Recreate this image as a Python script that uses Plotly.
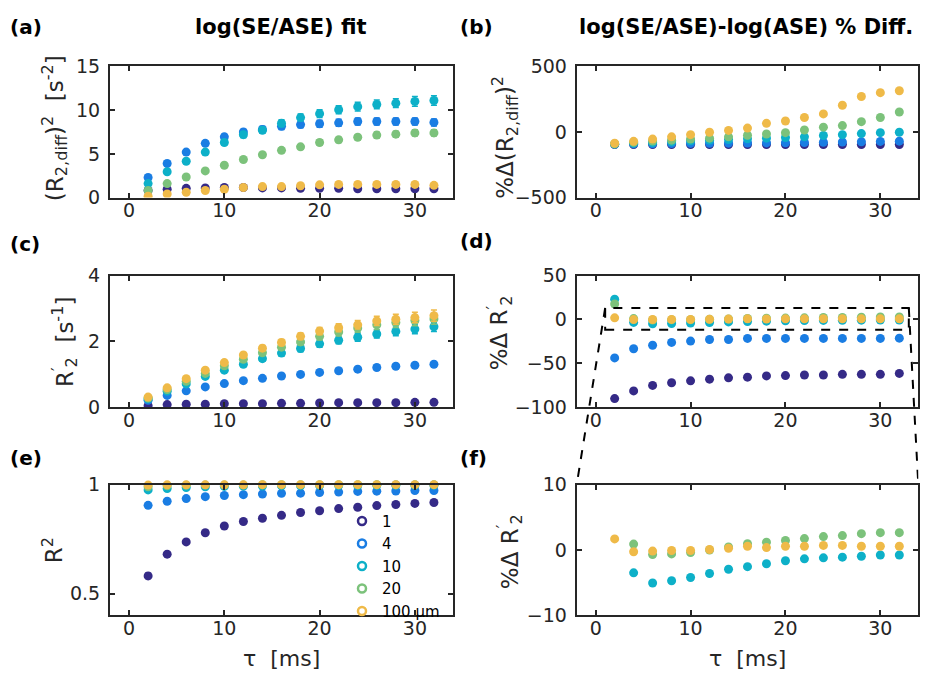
import plotly.graph_objects as go
from plotly.subplots import make_subplots

# ---------------- data ----------------
tau = [2, 4, 6, 8, 10, 12, 14, 16, 18, 20, 22, 24, 26, 28, 30, 32]
radius_labels = ["1", "4", "10", "20", "100 µm"]
colors = ["#352A87", "#1A7DE3", "#0DB0C8", "#7CC27B", "#EFBA48"]

# (a) (R2,diff)^2 [s^-2]
r2diff_sq = [
    [0.8, 0.95, 1.05, 1.1, 1.15, 1.15, 1.1, 1.1, 1.05, 1.05, 1.05, 1.0, 1.0, 1.0, 1.0, 1.0],
    [2.29, 3.9, 5.2, 6.2, 6.95, 7.5, 7.8, 8.15, 8.35, 8.45, 8.55, 8.7, 8.7, 8.7, 8.7, 8.6],
    [1.6, 2.95, 4.15, 5.2, 6.3, 7.2, 7.7, 8.5, 9.15, 9.6, 10.05, 10.4, 10.65, 10.8, 11.0, 11.1],
    [0.8, 1.6, 2.35, 3.05, 3.7, 4.35, 4.9, 5.4, 5.8, 6.3, 6.6, 6.9, 7.15, 7.25, 7.4, 7.4],
    [0.15, 0.4, 0.6, 0.8, 0.95, 1.15, 1.25, 1.25, 1.35, 1.45, 1.5, 1.5, 1.5, 1.5, 1.5, 1.4],
]
r2diff_sq_err = [
    [0.05, 0.05, 0.05, 0.05, 0.05, 0.05, 0.05, 0.05, 0.05, 0.05, 0.05, 0.05, 0.05, 0.05, 0.05, 0.05],
    [0.1, 0.15, 0.2, 0.25, 0.3, 0.3, 0.35, 0.35, 0.35, 0.4, 0.4, 0.4, 0.4, 0.4, 0.4, 0.4],
    [0.1, 0.15, 0.2, 0.25, 0.3, 0.35, 0.35, 0.4, 0.4, 0.45, 0.45, 0.5, 0.5, 0.5, 0.55, 0.55],
    [0.05, 0.1, 0.1, 0.15, 0.15, 0.2, 0.2, 0.25, 0.25, 0.3, 0.3, 0.3, 0.35, 0.35, 0.35, 0.35],
    [0.03, 0.03, 0.04, 0.05, 0.05, 0.06, 0.06, 0.07, 0.07, 0.08, 0.08, 0.08, 0.08, 0.08, 0.08, 0.08],
]

# (b) % difference of (R2,diff)^2
pct_r2diff_sq = [
    [-96, -96, -96, -96, -96, -95, -95, -95, -95, -95, -95, -95, -95, -95, -95, -95],
    [-93, -91, -90, -88, -87, -86, -85, -84, -83, -82, -80, -78, -76, -74, -72, -70],
    [-92, -85, -80, -74, -67, -62, -57, -52, -47, -42, -37, -27, -20, -12, -5, -2],
    [-91, -79, -69, -62, -54, -47, -37, -25, -15, -5, 15, 37, 49, 79, 111, 153],
    [-86, -71, -54, -37, -20, -2, 12, 30, 66, 84, 111, 138, 204, 271, 300, 315],
]

# (c) R2' [s^-1]
r2prime = [
    [0.04, 0.07, 0.08, 0.08, 0.1, 0.1, 0.1, 0.11, 0.11, 0.12, 0.13, 0.13, 0.13, 0.13, 0.14, 0.14],
    [0.2, 0.35, 0.49, 0.61, 0.71, 0.8, 0.87, 0.94, 0.99, 1.05, 1.1, 1.15, 1.2, 1.24, 1.27, 1.3],
    [0.25, 0.48, 0.7, 0.93, 1.12, 1.3, 1.47, 1.64, 1.78, 1.92, 2.03, 2.12, 2.22, 2.3, 2.37, 2.44],
    [0.27, 0.53, 0.78, 1.02, 1.25, 1.45, 1.65, 1.82, 1.98, 2.15, 2.28, 2.4, 2.5, 2.57, 2.63, 2.68],
    [0.3, 0.58, 0.86, 1.12, 1.35, 1.58, 1.79, 1.96, 2.15, 2.31, 2.41, 2.5, 2.62, 2.67, 2.72, 2.78],
]
r2prime_err = [
    [0.01, 0.01, 0.01, 0.01, 0.01, 0.01, 0.01, 0.01, 0.01, 0.01, 0.01, 0.01, 0.01, 0.01, 0.01, 0.01],
    [0.02, 0.02, 0.03, 0.03, 0.03, 0.04, 0.04, 0.04, 0.05, 0.05, 0.05, 0.05, 0.06, 0.06, 0.06, 0.06],
    [0.02, 0.03, 0.04, 0.05, 0.06, 0.07, 0.08, 0.09, 0.1, 0.1, 0.11, 0.12, 0.12, 0.13, 0.14, 0.14],
    [0.02, 0.03, 0.04, 0.05, 0.06, 0.07, 0.08, 0.09, 0.1, 0.11, 0.12, 0.13, 0.14, 0.15, 0.16, 0.16],
    [0.02, 0.03, 0.04, 0.05, 0.06, 0.07, 0.08, 0.09, 0.1, 0.11, 0.12, 0.13, 0.14, 0.15, 0.16, 0.17],
]

# (d)/(f) % difference of R2'
pct_r2prime = [
    [-90.5, -81.7, -75.4, -72.4, -70.2, -68.3, -66.8, -66.0, -64.6, -64.2, -63.5, -63.5, -62.8, -62.8, -62.8, -61.7],
    [-44.0, -33.6, -29.6, -26.3, -24.8, -23.0, -23.0, -21.8, -21.8, -21.8, -21.8, -21.8, -21.8, -21.8, -21.8, -21.5],
    [23.0, -3.5, -5.05, -4.7, -4.2, -3.6, -2.95, -2.55, -2.1, -1.65, -1.35, -1.2, -1.1, -0.95, -0.77, -0.77],
    [17.5, 0.9, -0.7, -0.6, -0.4, 0.0, 0.45, 0.95, 1.2, 1.45, 1.75, 2.05, 2.2, 2.5, 2.65, 2.65],
    [1.7, -0.27, -0.17, -0.07, -0.07, 0.07, 0.27, 0.57, 0.37, 0.57, 0.57, 0.7, 0.7, 0.57, 0.57, 0.57],
]

# (e) R^2 of fit
r_squared = [
    [0.581, 0.681, 0.737, 0.779, 0.81, 0.831, 0.846, 0.859, 0.872, 0.88, 0.89, 0.896, 0.904, 0.909, 0.914, 0.918],
    [0.905, 0.924, 0.936, 0.945, 0.95, 0.954, 0.957, 0.96, 0.961, 0.964, 0.966, 0.969, 0.97, 0.971, 0.973, 0.973],
    [0.976, 0.982, 0.987, 0.99, 0.992, 0.993, 0.994, 0.995, 0.995, 0.996, 0.996, 0.996, 0.997, 0.997, 0.997, 0.997],
    [0.99, 0.995, 0.997, 0.998, 0.998, 0.998, 0.999, 0.999, 0.999, 0.999, 0.999, 0.999, 0.999, 0.999, 0.999, 0.999],
    [0.998, 0.999, 0.999, 0.999, 0.999, 0.999, 1.0, 1.0, 1.0, 1.0, 1.0, 1.0, 1.0, 1.0, 1.0, 1.0],
]
r_squared_err = [
    [0.012, 0.01, 0.008, 0.007, 0.006, 0.005, 0.005, 0.004, 0.004, 0.004, 0.003, 0.003, 0.003, 0.003, 0.003, 0.003],
    [0.003] * 16, [0.001] * 16, [0.001] * 16, [0.001] * 16,
]

# ---------------- figure ----------------
W, H = 927, 688
FONT = "DejaVu Sans"
INK = "#262626"

fig = make_subplots(rows=3, cols=2)

col_dom = [[110 / W, 453 / W], [576.7 / W, 918.3 / W]]
row_dom = [[1 - 192.7 / H, 1 - 57.3 / H], [1 - 409 / H, 1 - 273.3 / H], [1 - 624.3 / H, 1 - 489.3 / H]]

panels = [
    # (row, col, data, err, yrange, yticks, clip)
    (1, 1, r2diff_sq, r2diff_sq_err, [0, 15], [0, 5, 10, 15], True),
    (1, 2, pct_r2diff_sq, None, [-500, 500], [-500, 0, 500], True),
    (2, 1, r2prime, r2prime_err, [0, 4], [0, 2, 4], True),
    (2, 2, pct_r2prime, None, [-100, 50], [-100, -50, 0, 50], True),
    (3, 1, r_squared, r_squared_err, [0.4, 1], [0.5, 1], False),
    (3, 2, pct_r2prime, None, [-10, 10], [-10, 0, 10], True),
]

for (r, c, data, err, yr, yt, clip) in panels:
    for i, series in enumerate(data):
        kw = {}
        if err is not None:
            kw["error_y"] = dict(type="data", array=err[i], color=colors[i], thickness=1.5, width=3)
        fig.add_trace(go.Scatter(
            x=tau, y=series, mode="markers",
            marker=dict(size=9, color=colors[i]),
            showlegend=False, cliponaxis=clip, **kw,
        ), row=r, col=c)
    fig.update_xaxes(domain=col_dom[c - 1], range=[-2, 34], tickvals=[0, 10, 20, 30],
                     row=r, col=c)
    fig.update_yaxes(domain=row_dom[r - 1], range=yr, tickvals=yt, row=r, col=c)

# legend (open-circle markers) in panel (e)
for i, lab in enumerate(radius_labels):
    fig.add_trace(go.Scatter(
        x=[None], y=[None], mode="markers", name=lab,
        marker=dict(size=8, color=colors[i], symbol="circle-open",
                    line=dict(width=2.5)),
        showlegend=True,
    ), row=3, col=1)

axis_style = dict(
    showgrid=False, zeroline=False, showline=True, linecolor=INK, linewidth=2,
    mirror="ticks", ticks="inside", ticklen=5, tickwidth=1.5, tickcolor=INK,
    tickfont=dict(family=FONT, size=19, color=INK),
)
fig.update_xaxes(**axis_style, ticklabelstandoff=-5)
fig.update_yaxes(**axis_style, ticklabelstandoff=4)

# ---------------- text ----------------
ann = []
def ptxt(text, x, y, size=20, bold=False, angle=0, xanchor="center"):
    ann.append(dict(
        text=f"<b>{text}</b>" if bold else text, x=x / W, y=1 - y / H,
        xref="paper", yref="paper", showarrow=False, textangle=angle,
        xanchor=xanchor, yanchor="middle",
        font=dict(family=FONT, size=size, color="black" if bold else INK),
    ))

ptxt("(a)", 8, 17, 20, True, xanchor="left")
ptxt("(b)", 458, 17, 20, True, xanchor="left")
ptxt("(c)", 8, 241, 20, True, xanchor="left")
ptxt("(d)", 458, 238, 20, True, xanchor="left")
ptxt("(e)", 8, 462, 20, True, xanchor="left")
ptxt("(f)", 458, 462, 20, True, xanchor="left")
ptxt("log(SE/ASE) fit", 281, 17, 21, True)
ptxt("log(SE/ASE)-log(ASE) % Diff.", 746, 17, 21, True)

YT = 23
ptxt("(R<sub>2,diff</sub>)<sup>2</sup>  [s<sup>-2</sup>]", 54, 121, YT, angle=-90)
ptxt("%Δ(R<sub>2,diff</sub>)<sup>2</sup>", 505, 131, YT, angle=-90)
ptxt("R<sup>′</sup><sub>2</sub>  [s<sup>-1</sup>]", 64, 341, YT, angle=-90)
ptxt("%Δ R<sup>′</sup><sub>2</sub>", 499, 333, YT, angle=-90)
ptxt("R<sup>2</sup>", 53, 557, YT, angle=-90)
ptxt("%Δ R<sup>′</sup><sub>2</sub>", 509, 559, YT, angle=-90)
ptxt("τ  [ms]", 281.5, 669, 22)
ptxt("τ  [ms]", 747.5, 669, 22)

# ---------------- zoom box & connector lines (d) -> (f) ----------------
box_x = [1, 33]
box_y = [-12, 13]
d_range, d_dom = [-100, 50], row_dom[1]
f_dom = row_dom[2]
def d_to_paper(v):
    return d_dom[0] + (v - d_range[0]) / (d_range[1] - d_range[0]) * (d_dom[1] - d_dom[0])

dash_line = dict(color="black", width=2, dash="dash")
shapes = [
    dict(type="rect", xref="x4", yref="y4", x0=box_x[0], x1=box_x[1], y0=box_y[0], y1=box_y[1],
         line=dash_line, fillcolor="rgba(0,0,0,0)"),
    dict(type="line", xref="x4", yref="paper", x0=box_x[0], x1=-2,
         y0=d_to_paper(box_y[1]), y1=f_dom[1], line=dash_line),
    dict(type="line", xref="x4", yref="paper", x0=box_x[1], x1=34,
         y0=d_to_paper(box_y[1]), y1=f_dom[1], line=dash_line),
]

fig.update_layout(
    width=W, height=H, margin=dict(l=0, r=0, t=0, b=0),
    paper_bgcolor="white", plot_bgcolor="white",
    annotations=ann, shapes=shapes,
    legend=dict(x=342 / W, y=1 - 510 / H, xanchor="left", yanchor="top",
                bgcolor="rgba(0,0,0,0)", font=dict(family=FONT, size=15, color="black"),
                tracegroupgap=0, itemwidth=30),
)

fig.write_html("out.html")
